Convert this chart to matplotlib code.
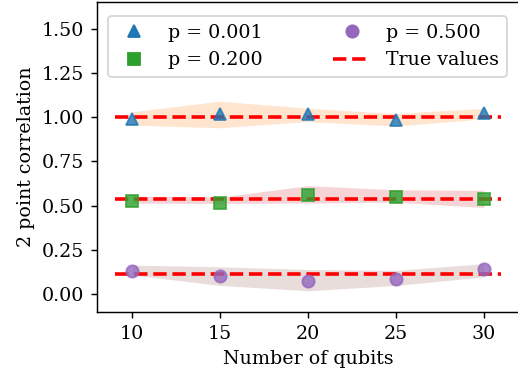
import numpy as np
import matplotlib
matplotlib.use("Agg")
import matplotlib.pyplot as plt

plt.rcParams['font.family'] = ['DejaVu Serif']
plt.rcParams['font.size'] = 10.5

qubits = [10, 15, 20, 25, 30]

# p = 0.001
corr_001 = [0.99, 1.015, 1.02, 0.985, 1.025]
lo_001 = [0.955, 0.94, 0.975, 0.95, 0.99]
hi_001 = [1.03, 1.09, 1.05, 1.02, 1.05]
true_001 = 1.0

# p = 0.200
corr_200 = [0.525, 0.515, 0.563, 0.549, 0.54]
lo_200 = [0.515, 0.513, 0.515, 0.52, 0.49]
hi_200 = [0.553, 0.549, 0.613, 0.59, 0.587]
true_200 = 0.538

# p = 0.500
corr_500 = [0.131, 0.103, 0.075, 0.088, 0.145]
lo_500 = [0.11, 0.05, 0.02, 0.05, 0.098]
hi_500 = [0.165, 0.155, 0.14, 0.135, 0.173]
true_500 = 0.113

W, H = 518, 384
DPI = 130
fig = plt.figure(figsize=(W / DPI, H / DPI), dpi=DPI)
ax = fig.add_axes([97 / W, 1 - 312 / H, (519 - 97) / W, (312 - 2) / H])

# shaded bands
ax.fill_between(qubits, lo_001, hi_001, color='C1', alpha=0.2, lw=0)
ax.fill_between(qubits, lo_200, hi_200, color='C3', alpha=0.2, lw=0)
ax.fill_between(qubits, lo_500, hi_500, color='C5', alpha=0.2, lw=0)

# true values
for i, t in enumerate([true_001, true_200, true_500]):
    ax.hlines(t, 9, 31, colors='red', linestyles='--', lw=2,
              label='True values' if i == 0 else None, zorder=2)

ax.plot(qubits, corr_001, '^', color='C0', ms=6.8, alpha=0.8, label='p = 0.001', zorder=3)
ax.plot(qubits, corr_200, 's', color='C2', ms=6.5, alpha=0.8, label='p = 0.200', zorder=3)
ax.plot(qubits, corr_500, 'o', color='C4', ms=6.8, alpha=0.8, label='p = 0.500', zorder=3)

ax.set_xlim(8, 32)
ax.set_ylim(-0.1, 1.65)
ax.set_xticks(qubits)
ax.set_yticks([0, 0.25, 0.5, 0.75, 1.0, 1.25, 1.5])
ax.set_yticklabels(['0.00', '0.25', '0.50', '0.75', '1.00', '1.25', '1.50'])
ax.set_xlabel('Number of qubits')
ax.set_ylabel('2 point correlation')

h, l = ax.get_legend_handles_labels()
order = [l.index('p = 0.001'), l.index('p = 0.200'), l.index('p = 0.500'), l.index('True values')]
leg = ax.legend([h[i] for i in order], [l[i] for i in order], ncol=2,
                loc='upper left', bbox_to_anchor=(0.003, 0.985), columnspacing=3.7)
for lh in leg.legend_handles:
    lh.set_alpha(1)

fig.savefig('out.png', dpi=DPI)
